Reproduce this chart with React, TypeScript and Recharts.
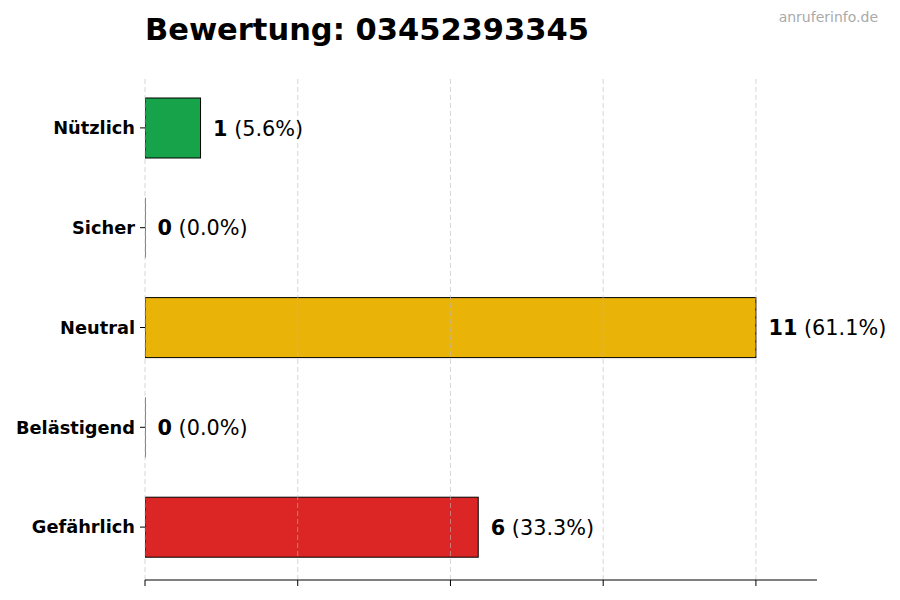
import React from "react"
import { Bar, BarChart, Cell, LabelList, ReferenceLine, XAxis, YAxis } from "recharts"

const categories = ["Nützlich", "Sicher", "Neutral", "Belästigend", "Gefährlich"]
const counts = [1, 0, 11, 0, 6]
const percents = ["5.6%", "0.0%", "61.1%", "0.0%", "33.3%"]
const barColors = ["#16a34a", "#9ca3af", "#eab308", "#f97316", "#dc2626"]
const xTicks = [0, 2.75, 5.5, 8.25, 11]

const data = categories.map((name, i) => ({ name, count: counts[i], pct: percents[i] }))

const FONT = "'DejaVu Sans', sans-serif"

const BarShape = (props: any) => {
  const { x, y, width, height, fill } = props
  if (!width) {
    return <line x1={x} x2={x} y1={y} y2={y + height} stroke="#000" strokeWidth={1} />
  }
  return <rect x={x} y={y} width={width} height={height} fill={fill} stroke="#000" strokeWidth={1} />
}

const ValueLabel = (props: any) => {
  const { x, y, width, height, index } = props
  const d = data[index]
  return (
    <text
      x={x + width + 12.5}
      y={y + height / 2 + 0.5}
      dominantBaseline="central"
      fontFamily={FONT}
      fontSize={20.8}
      fill="#000"
    >
      <tspan fontWeight="bold">{d.count}</tspan>
      <tspan> ({d.pct})</tspan>
    </text>
  )
}

export default function App() {
  return (
    <div style={{ position: "absolute", left: 0, top: 0, width: 900, height: 600, background: "#fff" }}>
      <div
        style={{
          position: "absolute",
          left: 145,
          top: 12,
          fontFamily: FONT,
          fontWeight: "bold",
          fontSize: 30.5,
          color: "#000",
          whiteSpace: "nowrap",
        }}
      >
        Bewertung: 03452393345
      </div>
      <div
        style={{
          position: "absolute",
          right: 22,
          top: 9,
          fontFamily: FONT,
          fontSize: 14,
          color: "#aaaaaa",
        }}
      >
        anruferinfo.de
      </div>
      <BarChart
        width={900}
        height={600}
        data={data}
        layout="vertical"
        margin={{ top: 77, right: 83, left: 0, bottom: 0 }}
      >
        <XAxis
          type="number"
          domain={[0, 12.1]}
          ticks={xTicks}
          tickFormatter={() => ""}
          tickSize={6}
          height={20}
          axisLine={{ stroke: "#000" }}
          tickLine={{ stroke: "#000" }}
          allowDataOverflow
        />
        <YAxis
          type="category"
          dataKey="name"
          width={145}
          padding={{ top: 1, bottom: 3 }}
          axisLine={false}
          tickLine={{ stroke: "#000" }}
          tickSize={5}
          tickMargin={5}
          tick={{ fontFamily: FONT, fontSize: 17.8, fontWeight: "bold", fill: "#000" }}
        />
        <Bar dataKey="count" barSize={60} shape={<BarShape />} isAnimationActive={false}>
          {data.map((d, i) => (
            <Cell key={d.name} fill={barColors[i]} />
          ))}
          <LabelList dataKey="count" content={<ValueLabel />} />
        </Bar>
        {xTicks.map((t) => (
          <ReferenceLine key={t} x={t} stroke="#bbb" strokeOpacity={0.6} strokeDasharray="5 3" />
        ))}
      </BarChart>
    </div>
  )
}
